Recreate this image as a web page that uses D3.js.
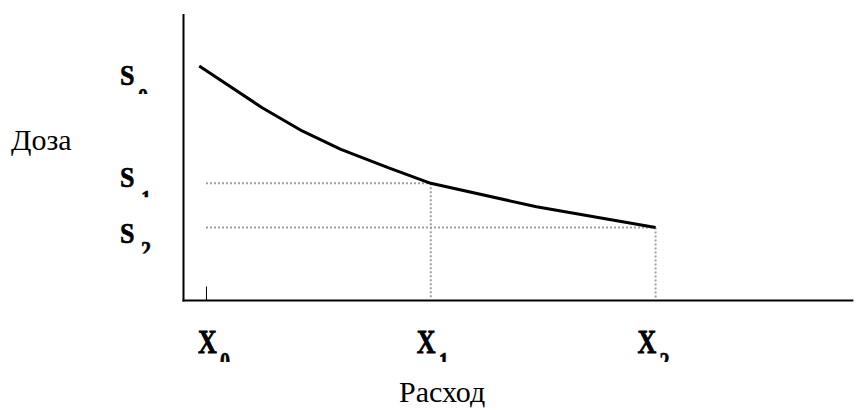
<!DOCTYPE html>
<html><head><meta charset="utf-8">
<script src="https://cdn.jsdelivr.net/npm/d3@7"></script>
<style>html,body{margin:0;padding:0;background:#fff;}svg{display:block;}
.b{font-family:"Liberation Serif","Times New Roman",Times,serif;font-weight:700;}
.r{font-family:"Liberation Serif","Times New Roman",Times,serif;font-weight:400;}
</style>
</head><body>
<svg id="c" width="859" height="410"></svg>
<script>
// Data
const curveX = [-0.3, 2.5, 4.3, 6.0, 8.1, 10, 14.7, 20];
const curveY = [9.0, 7.4, 6.5, 5.8, 5.1, 4.5, 3.6, 2.8];
const levelNames = ["S", "S", "S"];
const levelSubs = ["0", "1", "2"];
const levelValues = [9.0, 4.5, 2.8];
const xNames = ["X", "X", "X"];
const xSubs = ["0", "1", "2"];
const xValues = [0, 10, 20];
const yTitle = "Доза";
const xTitle = "Расход";

const svg = d3.select("#c");
const x = d3.scaleLinear().domain([-1, 28.8]).range([183.5, 853.4]);
const y = d3.scaleLinear().domain([0, 11]).range([300.5, 14]);

// axes
svg.append("line").attr("x1", x(-1)).attr("x2", x(-1)).attr("y1", y(11)).attr("y2", y(0) + 1)
  .attr("stroke", "#000").attr("stroke-width", 2);
svg.append("line").attr("x1", x(-1) - 1).attr("x2", x(28.8)).attr("y1", y(0)).attr("y2", y(0))
  .attr("stroke", "#000").attr("stroke-width", 2);
// small tick at X0
svg.append("line").attr("x1", x(xValues[0]) + 0.5).attr("x2", x(xValues[0]) + 0.5)
  .attr("y1", y(0) - 14).attr("y2", y(0)).attr("stroke", "#000").attr("stroke-width", 1);

// dotted guides for S1, S2
[1, 2].forEach(i => {
  const gx = xValues[i], gy = levelValues[i];
  svg.append("line").attr("x1", x(xValues[0])).attr("x2", x(gx)).attr("y1", y(gy)).attr("y2", y(gy))
    .attr("stroke", "#a0a0a0").attr("stroke-width", 2).attr("stroke-dasharray", "2,2");
  svg.append("line").attr("x1", x(gx)).attr("x2", x(gx)).attr("y1", y(gy)).attr("y2", y(0) - 1)
    .attr("stroke", "#a0a0a0").attr("stroke-width", 2).attr("stroke-dasharray", "2,2");
});

// curve
const pts = curveX.map((v, i) => [v, curveY[i]]);
svg.append("path").datum(pts)
  .attr("d", d3.line().x(d => x(d[0])).y(d => y(d[1])))
  .attr("fill", "none").attr("stroke", "#000").attr("stroke-width", 3)
  .attr("stroke-linejoin", "round");

// label helper: main letter + clipped subscript
const defs = svg.append("defs");
function label(id, name, sub, lx, base, sy, subDx, subTop, clipBottom) {
  defs.append("clipPath").attr("id", id).append("rect")
    .attr("x", -5).attr("y", -60).attr("width", 80).attr("height", 60 + (clipBottom - base) / sy);
  const g = svg.append("g").attr("transform", `translate(${lx},${base}) scale(1,${sy})`)
    .attr("clip-path", `url(#${id})`);
  g.append("text").attr("class", "b").attr("x", 0).attr("y", 0)
    .attr("font-size", 26).attr("fill", "#000").attr("stroke", "#000").attr("stroke-width", 0.6)
    .text(name);
  const subSize = 20;
  const capH = subSize * 0.68 * sy;
  g.append("text").attr("class", "b").attr("x", subDx).attr("y", (subTop - base + capH) / sy)
    .attr("font-size", subSize).attr("fill", "#000").attr("stroke", "#000").attr("stroke-width", 0.5)
    .text(sub);
}

// S labels (left of y axis)
const sOffsets = [19, 4, 15];
const sSubTopOff = [3, 3, -1];
const sClipOff = [9, 10, 11];
levelValues.forEach((v, i) => {
  const base = y(v) + sOffsets[i];
  label("cs" + i, levelNames[i], levelSubs[i], 120, base, 1.17, i === 0 ? 18 : 21, base + sSubTopOff[i], base + sClipOff[i]);
});

// X labels
const xDx = [-8, -14, -18];
xValues.forEach((v, i) => {
  const base = 353;
  label("cx" + i, xNames[i], xSubs[i], x(v) + xDx[i], base, 1.28, 22, base, base + 9);
});

// axis titles
svg.append("text").attr("class", "r").attr("x", 11).attr("y", 150)
  .attr("font-size", 30).attr("fill", "#000").text(yTitle);
svg.append("text").attr("class", "r").attr("x", 399).attr("y", 402)
  .attr("font-size", 30).attr("fill", "#000").text(xTitle);
</script>
</body></html>
